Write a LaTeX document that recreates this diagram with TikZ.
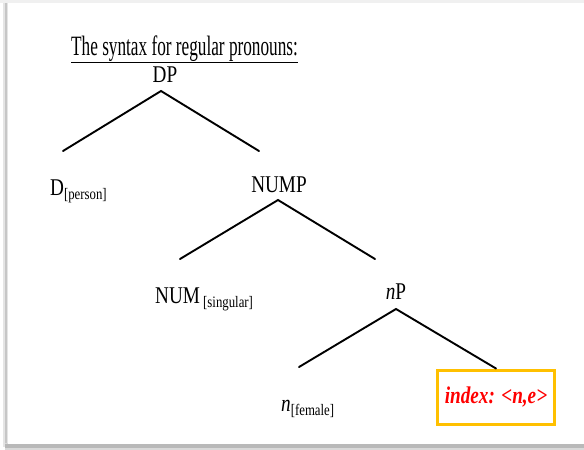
\documentclass[tikz,border=0pt]{standalone}
\usepackage{fontspec}
\setmainfont{Liberation Serif}
\definecolor{boxgold}{HTML}{FFC000}
\definecolor{idxred}{HTML}{FF0000}
\newcommand{\lbl}[1]{\scalebox{0.8}[1]{#1}}
\newcommand{\sub}[1]{{\fontsize{16}{16}\selectfont#1}}
\tikzset{
  branch/.style={line width=1.9pt, line cap=round},
  cat/.style={inner sep=0pt, anchor=base, font=\fontsize{24}{24}\selectfont},
  idxbox/.style={draw=boxgold, line width=3pt, fill=white, minimum width=117pt,
    minimum height=54pt, inner sep=0pt, text=idxred,
    font=\fontsize{24}{24}\selectfont\bfseries\itshape},
}
\begin{document}
\begin{tikzpicture}[x=1pt,y=-1pt]
\useasboundingbox (0,0) rectangle (584,450);
% slide page with its shadow
\fill[white] (0,0) rectangle (584,450);
\fill[gray!12] (0,0) rectangle (584,3);
\fill[gray!20] (3,3) rectangle (8,447);
\fill[gray!45] (5,3) rectangle (7,447);
\fill[gray!30] (5,443) rectangle (584,450);
\fill[gray!55] (5,444) rectangle (584,447.5);
\fill[white] (7.5,3.5) rectangle (584,443.5);

% title
\node[inner sep=0pt, anchor=base west] (title) at (71,55)
  {\scalebox{0.615}[1]{\fontsize{28}{28}\selectfont\underline{The syntax for regular pronouns:}}};

% tree labels
\node[cat] (dp) at (165,82) {\lbl{DP}};
\node[cat, anchor=base west] (d) at (50,195) {\lbl{D\raisebox{-4pt}{\sub{[person]}}}};
\node[cat] (nump) at (279,192) {\lbl{NUMP}};
\node[cat, anchor=base west] (num) at (155,303) {\lbl{NUM\,\raisebox{-4pt}{\sub{[singular]}}}};
\node[cat] (np) at (396,299) {\lbl{\textit{n}P}};
\node[cat, anchor=base west] (n) at (281,411) {\lbl{\textit{n}\raisebox{-4pt}{\sub{[female]}}}};
\node[idxbox] (idx) at (496,397) {\lbl{index: <n,e>}};

% branch points
\coordinate (dp-top) at (161,91);
\coordinate (d-end) at (63,151);
\coordinate (nump-end) at (259,151);
\coordinate (nump-top) at (278,200);
\coordinate (num-end) at (180,259);
\coordinate (np-end) at (375,259);
\coordinate (np-top) at (396,309);
\coordinate (n-end) at (299,367);

\draw[branch] (d-end) -- (dp-top) -- (nump-end);
\draw[branch] (num-end) -- (nump-top) -- (np-end);
\draw[branch] (n-end) -- (np-top) -- (idx.north);
\end{tikzpicture}
\end{document}
